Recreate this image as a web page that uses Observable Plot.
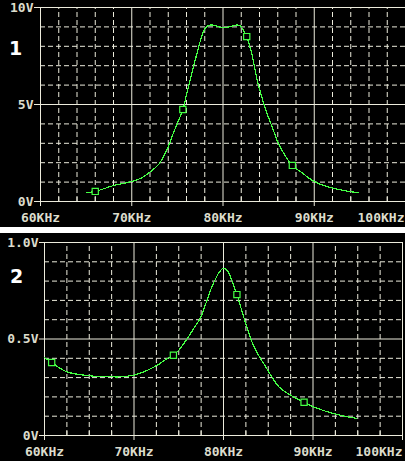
<!DOCTYPE html>
<html>
<head>
<meta charset="utf-8">
<script src="https://cdn.jsdelivr.net/npm/d3@7"></script>
<script src="https://cdn.jsdelivr.net/npm/@observablehq/plot@0.6"></script>
<style>
  html, body { margin: 0; padding: 0; background: #000; }
  #panel1, #panel2 { line-height: 0; }
  .sep { height: 6px; background: #fff; }
</style>
</head>
<body>
<div id="panel1"></div>
<div class="sep"></div>
<div id="panel2"></div>
<script>
// Trace 1: band-pass output voltage (V) against frequency (kHz)
const freq1 = [65.0, 66.0, 68.0, 70.0, 71.0, 71.9, 73.0, 73.9, 74.6, 75.2, 75.6, 76.0, 76.5, 77.0, 77.5, 77.9, 78.2, 78.6, 79.0, 79.6, 80.1, 80.7, 81.2, 81.6, 81.9, 82.2, 82.6, 83.2, 83.75, 84.7, 85.4, 86.1, 87.6, 88.6, 90.0, 92.0, 94.8];
const volt1 = [0.45, 0.52, 0.82, 1.03, 1.2, 1.48, 1.94, 2.72, 3.57, 4.26, 4.74, 5.49, 6.43, 7.37, 8.25, 8.8, 9.02, 9.1, 9.08, 9.0, 8.95, 9.0, 9.07, 9.1, 9.05, 8.85, 8.5, 7.52, 6.24, 4.7, 3.83, 2.97, 1.86, 1.5, 1.03, 0.69, 0.45];
const markFreq1 = [66.0, 75.6, 82.6, 87.6];
const markVolt1 = [0.52, 4.74, 8.5, 1.86];

// Trace 2: single-peak response
const freq2 = [60.0, 60.8, 62.5, 65.1, 67.5, 68.5, 70.0, 71.1, 72.6, 73.7, 74.4, 75.0, 75.95, 76.9, 77.4, 78.0, 78.7, 79.1, 79.5, 80.0, 80.5, 80.95, 81.5, 82.65, 83.4, 84.9, 86.2, 87.5, 89.0, 90.0, 92.5, 94.8];
const volt2 = [0.404, 0.378, 0.33, 0.309, 0.304, 0.304, 0.313, 0.33, 0.364, 0.399, 0.416, 0.442, 0.502, 0.571, 0.607, 0.68, 0.77, 0.81, 0.845, 0.866, 0.85, 0.80, 0.73, 0.556, 0.461, 0.342, 0.252, 0.209, 0.172, 0.149, 0.111, 0.089];
const markFreq2 = [60.8, 74.4, 81.5, 89.0];
const markVolt2 = [0.378, 0.416, 0.73, 0.172];

// Axis ticks and labels
const xMajor = [60, 70, 80, 90, 100];
const xTickLabels = ["60KHz", "70KHz", "80KHz", "90KHz", "100KHz"];
const yTicks1 = [0, 5, 10];
const yTickLabels1 = ["0V", "5V", "10V"];
const yTicks2 = [0, 0.5, 1.0];
const yTickLabels2 = ["0V", "0.5V", "1.0V"];

const GREEN = "#44ff44";
const GRID = "#ecebdc";
const TEXT = "#dcdccc";

function panel(o) {
  const trace = o.freq.map((f, i) => ({f, v: o.volt[i]}));
  const marks = o.markFreq.map((f, i) => ({f, v: o.markVolt[i]}));
  const yMax = o.yTicks[o.yTicks.length - 1];
  const isMinorX = (d) => Math.abs(d / 10 - Math.round(d / 10)) > 1e-6;
  const xMinor = d3.range(60, 100 + 1e-9, o.xStep).filter(isMinorX);
  const yMinor = d3.range(0, yMax + 1e-9, yMax / 10).filter((d, i) => i % 5 !== 0);
  const lastIdx = xMajor.length - 1;
  return Plot.plot({
    width: 405,
    height: o.height,
    marginTop: o.marginTop,
    marginBottom: o.marginBottom,
    marginLeft: o.marginLeft,
    marginRight: o.marginRight,
    style: {background: "#000", color: TEXT, fontFamily: "'DejaVu Sans Mono', monospace", fontSize: "13px", fontWeight: "bold"},
    x: {domain: [60, 100], label: null},
    y: {domain: [0, yMax], label: null},
    marks: [
      // dashed minor grid
      Plot.ruleX(xMinor, {y1: 0, y2: yMax, stroke: GRID, strokeDasharray: "5,3"}),
      Plot.ruleY(yMinor, {x1: 60, x2: 100, stroke: GRID, strokeDasharray: "5,3"}),
      // solid major grid and frame
      Plot.ruleX(o.xRules, {y1: 0, y2: yMax, stroke: GRID}),
      Plot.ruleY(o.yTicks, {x1: 60, x2: 100, stroke: GRID}),
      // minor ticks rising from the bottom axis
      Plot.axisX(xMinor, {tickSize: -4, tickFormat: () => "", stroke: GRID, label: null}),
      // major ticks and frequency labels
      Plot.axisX(xMajor, {tickSize: 5, tickPadding: 6, stroke: GRID, label: null,
        tickFormat: (d) => { const i = xMajor.indexOf(d); return i === lastIdx ? "" : xTickLabels[i]; }}),
      Plot.text([lastIdx], {x: (i) => xMajor[i], text: (i) => xTickLabels[i], frameAnchor: "bottom",
        textAnchor: "end", lineAnchor: "top", dy: 11, dx: o.lastDx, fill: TEXT}),
      // voltage labels
      Plot.axisY(o.yTicks, {tickSize: o.yTickSize, tickPadding: o.yTickPadding, stroke: GRID, label: null,
        tickFormat: (d) => o.yTickLabels[o.yTicks.indexOf(d)]}),
      // trace number
      Plot.text([o.tag], {frameAnchor: "top-left", dx: o.tagDx, dy: o.tagDy, text: (d) => d,
        fontFamily: "'DejaVu Sans', sans-serif", fontWeight: "bold", fontSize: 19, fill: "#fff",
        textAnchor: "middle", lineAnchor: "middle"}),
      // the trace and its markers
      Plot.line(trace, {x: "f", y: "v", stroke: GREEN, strokeWidth: 1.2, curve: "catmull-rom", shapeRendering: "crispEdges"}),
      Plot.dot(marks, {x: "f", y: "v", symbol: "square", r: 3.5, stroke: GREEN, fill: "#000", strokeWidth: 1.2})
    ]
  });
}

document.getElementById("panel1").append(panel({
  freq: freq1, volt: volt1, markFreq: markFreq1, markVolt: markVolt1,
  yTicks: yTicks1, yTickLabels: yTickLabels1, xStep: 2,
  xRules: [60, 70, 80, 90],
  height: 227, marginTop: 7, marginBottom: 26, marginLeft: 40, marginRight: 0,
  yTickSize: 6, yTickPadding: 1, lastDx: -1,
  tag: "1", tagDx: -25, tagDy: 41.5
}));

document.getElementById("panel2").append(panel({
  freq: freq2, volt: volt2, markFreq: markFreq2, markVolt: markVolt2,
  yTicks: yTicks2, yTickLabels: yTickLabels2, xStep: 2.5,
  xRules: [60, 70, 80, 90, 100],
  height: 228, marginTop: 9, marginBottom: 26, marginLeft: 44, marginRight: 3,
  yTickSize: 5, yTickPadding: 1, lastDx: 0,
  tag: "2", tagDx: -28, tagDy: 34
}));
</script>
</body>
</html>
